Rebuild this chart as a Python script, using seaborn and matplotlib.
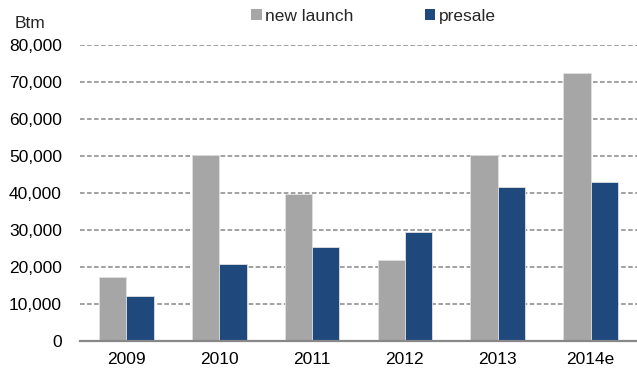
import matplotlib
matplotlib.use("Agg")
import matplotlib.pyplot as plt
import seaborn as sns
import pandas as pd
import numpy as np

years = ["2009", "2010", "2011", "2012", "2013", "2014e"]
new_launch = [17400, 50400, 39700, 22000, 50200, 72400]
presale = [12100, 20800, 25500, 29500, 41500, 43100]
series_names = ["new launch", "presale"]
colors = ["#A6A6A6", "#1F497D"]
yticks = [0, 10000, 20000, 30000, 40000, 50000, 60000, 70000, 80000]

df = pd.DataFrame({
    "year": years * 2,
    "value": new_launch + presale,
    "series": [series_names[0]] * len(years) + [series_names[1]] * len(years),
})

sns.set_theme(style="white")
plt.rcParams["font.family"] = ["Liberation Sans", "DejaVu Sans"]

fig = plt.figure(figsize=(6.37, 3.76), dpi=100)
ax = fig.add_axes([80 / 637, 1 - 341 / 376, 557 / 637, (341 - 45) / 376])

sns.barplot(data=df, x="year", y="value", hue="series", order=years,
            hue_order=series_names, palette=colors, width=0.59, gap=0,
            edgecolor="#E0E0E0", linewidth=0.6, ax=ax, saturation=1)

ax.set_ylim(0, 80000)
ax.set_xlim(-0.5, len(years) - 0.5)
ax.set_yticks(yticks)
ax.set_yticklabels([f"{v:,}" for v in yticks], fontsize=12.5, color="black")
ax.set_xlabel("")
ax.set_ylabel("")
ax.tick_params(axis="y", length=0, pad=13)
ax.tick_params(axis="x", which="major", length=0, pad=8, labelsize=12.5, labelcolor="black")
ax.set_xticks(np.arange(-0.5, len(years) + 0.5, 1), minor=True)
ax.tick_params(axis="x", which="minor", length=5, width=1.2, color="#888888", direction="out")

ax.yaxis.grid(True, linestyle=(0, (3, 1.6)), color="#888888", linewidth=1.1)
ax.set_axisbelow(True)
for s in ["top", "right", "left"]:
    ax.spines[s].set_visible(False)
ax.spines["bottom"].set_color("#888888")
ax.spines["bottom"].set_linewidth(1.6)

sns.move_legend(ax, "center", bbox_to_anchor=(0.586, 0.956),
                bbox_transform=fig.transFigure, ncol=2, frameon=False,
                title=None, fontsize=12.5, handlelength=0.6, handleheight=0.6,
                handletextpad=0.2, columnspacing=4.1, borderpad=0)
for h in ax.get_legend().legend_handles:
    h.set_edgecolor("none")

fig.text(15 / 637, 1 - 24 / 376, "Btm", fontsize=12.5, va="center", ha="left")

fig.savefig("out.png", dpi=100)
